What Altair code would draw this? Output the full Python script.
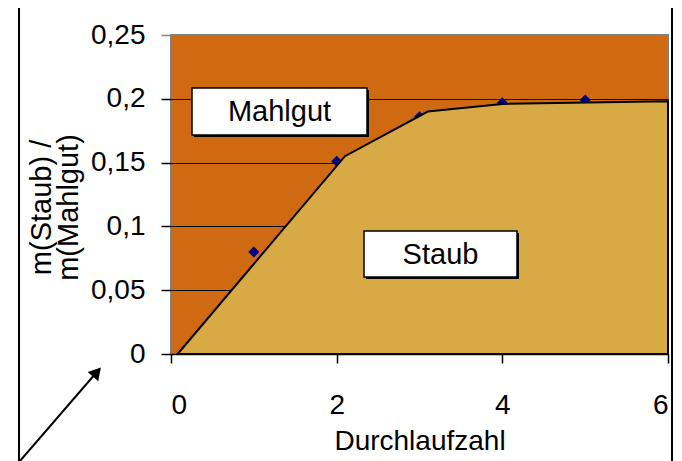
import altair as alt
import pandas as pd

# ---- data ----
staub_x = [0.08, 2.1, 3.1, 4.0, 6.0]
staub_y = [0.0, 0.155, 0.19, 0.196, 0.198]
meas_x = [1, 2, 3, 4, 5]
meas_y = [0.08, 0.151, 0.186, 0.197, 0.199]
x_ticks = [0, 2, 4, 6]
y_ticks = [0, 0.05, 0.1, 0.15, 0.2, 0.25]
region_labels = ["Mahlgut", "Staub"]
x_title = "Durchlaufzahl"
y_title = ["m(Staub) /", "m(Mahlgut)"]

FONT = "Liberation Sans, Arial, sans-serif"
W, H = 497, 319

staub_df = pd.DataFrame({"x": staub_x, "y": staub_y})
meas_df = pd.DataFrame({"x": meas_x, "y": meas_y})
one = pd.DataFrame({"k": [0]})

xscale = alt.Scale(domain=[0, 6], nice=False, zero=False)
yscale = alt.Scale(domain=[0, 0.25], nice=False, zero=False)

xaxis = alt.Axis(values=x_ticks, title=x_title, grid=False, domain=True, format="d",
                 domainColor="black", domainWidth=1.5, tickColor="black",
                 tickSize=9, tickWidth=1.5, labelFont=FONT, labelFontSize=28,
                 labelColor="black", labelPadding=28, titleFont=FONT,
                 titleFontSize=28, titleFontWeight="normal", titleColor="black",
                 titleY=95, titleBaseline="alphabetic")
yaxis = alt.Axis(values=y_ticks, title=y_title, grid=True,
                 gridColor={"condition": {"test": "datum.value >= 0.249", "value": "#808080"}, "value": "#000000"},
                 gridWidth=1, domain=False,
                 tickColor={"condition": {"test": "datum.value >= 0.249", "value": "#808080"}, "value": "#000000"},
                 tickSize=10, tickWidth=1.5,
                 labelExpr="replace(toString(datum.value), '.', ',')",
                 labelFont=FONT, labelFontSize=28, labelColor="black", labelPadding=16,
                 titleFont=FONT, titleFontSize=29, titleFontWeight="normal",
                 titleColor="black", titleAngle=270, titleAlign="center",
                 titleBaseline="alphabetic", titleLineHeight=27,
                 titleX=-121, titleY=172)

points = alt.Chart(meas_df).mark_point(shape="diamond", filled=True, size=121,
                                        color="#000080", opacity=1).encode(
    x=alt.X("x:Q", scale=xscale, axis=xaxis),
    y=alt.Y("y:Q", scale=yscale, axis=yaxis),
)

area = alt.Chart(staub_df).mark_area(color="#D8AA45", stroke="black",
                                      strokeWidth=2, opacity=1).encode(
    x=alt.X("x:Q", scale=xscale, axis=xaxis),
    y=alt.Y("y:Q", scale=yscale, axis=yaxis, stack=None),
)

def box(x1, x2, y1, y2, label, cx, cy):
    shadow = alt.Chart(one).mark_rect(color="black").encode(
        x=alt.value(x1 + 2), x2=alt.value(x2 + 2),
        y=alt.value(y1 + 2), y2=alt.value(y2 + 2))
    rect = alt.Chart(one).mark_rect(fill="white", stroke="black", strokeWidth=1.5).encode(
        x=alt.value(x1), x2=alt.value(x2), y=alt.value(y1), y2=alt.value(y2))
    txt = alt.Chart(one).mark_text(font=FONT, fontSize=29, color="black",
                                   align="center", baseline="middle").encode(
        x=alt.value(cx), y=alt.value(cy), text=alt.value(label))
    return [shadow, rect, txt]

mahl = box(21, 196, 53, 100, region_labels[0], 108.5, 77)
staub = box(193, 346, 196, 242, region_labels[1], 269.5, 220)

frame = alt.Chart(one).mark_rect(fillOpacity=0, stroke="black", strokeWidth=2).encode(
    x=alt.value(-152), x2=alt.value(501), y=alt.value(-30), y2=alt.value(440))

arrow_line = alt.Chart(one).mark_rule(color="black", strokeWidth=2).encode(
    x=alt.value(-151), x2=alt.value(-75), y=alt.value(426), y2=alt.value(338))
arrow_head = alt.Chart(one).mark_point(shape="triangle", filled=True, size=196,
                                       color="black", opacity=1, angle=41).encode(
    x=alt.value(-75.4), y=alt.value(338.5))

chart = alt.layer(points, area, *mahl, *staub, frame, arrow_line, arrow_head).properties(
    width=W, height=H,
    autosize=alt.AutoSizeParams(type="none"),
    padding={"left": 163, "top": 27, "right": 6, "bottom": 107},
    background="white",
).configure_view(fill="#CF6A12", stroke="#808080", strokeWidth=2)

chart.save("out.html", embed_options={"renderer": "svg", "actions": False})
